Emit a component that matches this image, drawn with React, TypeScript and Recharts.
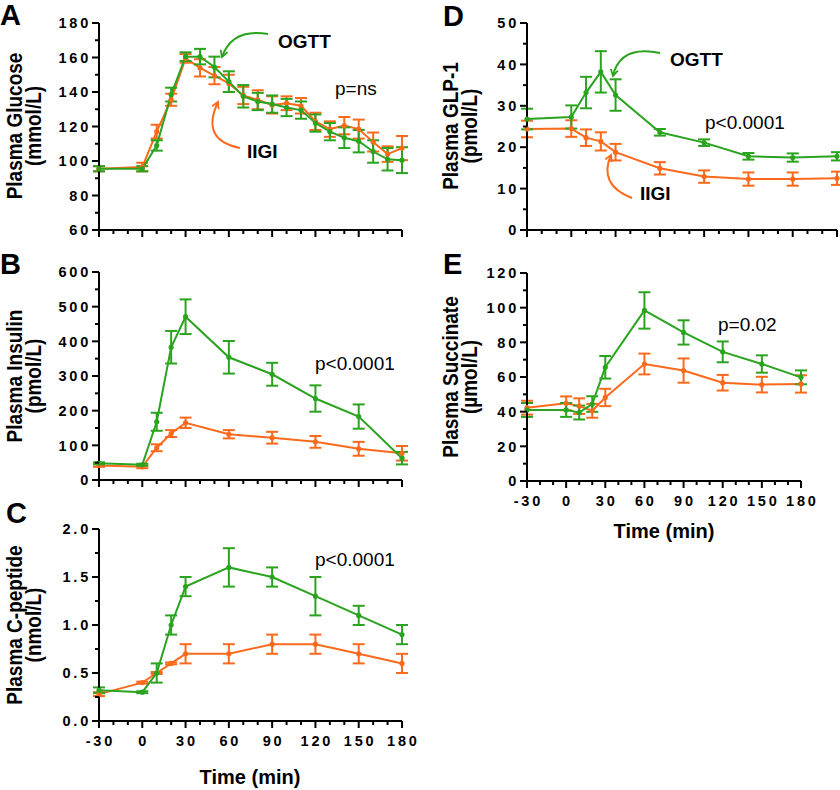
import { LineChart, Line, XAxis, YAxis, ErrorBar } from "recharts";

const GREEN = "#2aa31f";
const ORANGE = "#fb6a1c";
const FONT = "'Liberation Sans', Arial, Helvetica, sans-serif";

// x ticks every 10 min, labelled every 30
const xTicks = [-30, -20, -10, 0, 10, 20, 30, 40, 50, 60, 70, 80, 90, 100, 110, 120, 130, 140, 150, 160, 170, 180];

// A: glucose (mmol/L)
const glucoseTimes = [-30, 0, 10, 20, 30, 40, 50, 60, 70, 80, 90, 100, 110, 120, 130, 140, 150, 160, 170, 180];
const glucoseOgtt = [95.5, 95.5, 109, 138.5, 160.5, 160.5, 154.5, 146, 137.5, 134.5, 133, 131, 129.5, 122, 117, 113.5, 111.5, 105.5, 101, 100.5];
const glucoseOgttSem = [1.5, 1.5, 3, 4, 2.5, 4.5, 6, 6, 6.5, 5, 5, 5, 5, 5, 5, 6, 6.5, 6.5, 6.5, 7.5];
const glucoseIigi = [95.5, 96.5, 117, 135.5, 159.5, 154, 149.5, 145, 138, 135.5, 132.5, 133.5, 132, 123, 118.5, 120.5, 118.5, 111, 104, 107.5];
const glucoseIigiSem = [1.5, 2.5, 4, 3.5, 2.5, 5, 5, 5, 5, 5.5, 5, 4, 4.5, 5, 4.5, 5, 5.5, 5.5, 4.5, 7];
const glucoseTicks = [60, 70, 80, 90, 100, 110, 120, 130, 140, 150, 160, 170, 180];

// shared sampling for B-E
const times = [-30, 0, 10, 20, 30, 60, 90, 120, 150, 180];

// B: insulin (pmol/L)
const insulinOgtt = [48, 44, 168, 383, 471, 354, 305, 235, 183, 63];
const insulinOgttSem = [3, 3, 26, 47, 50, 47, 33, 38, 35, 18];
const insulinIigi = [42, 38, 93, 134, 165, 132, 122, 110, 90, 77];
const insulinIigiSem = [4, 4, 10, 10, 15, 12, 17, 17, 20, 21];
const insulinTicks = [0, 50, 100, 150, 200, 250, 300, 350, 400, 450, 500, 550, 600];

// C: C-peptide (nmol/L)
const cpepOgtt = [0.32, 0.3, 0.5, 1.0, 1.4, 1.6, 1.5, 1.3, 1.1, 0.9];
const cpepOgttSem = [0.03, 0.01, 0.1, 0.1, 0.1, 0.2, 0.1, 0.2, 0.1, 0.1];
const cpepIigi = [0.28, 0.4, 0.5, 0.6, 0.7, 0.7, 0.8, 0.8, 0.7, 0.6];
const cpepIigiSem = [0.02, 0.01, 0.01, 0.01, 0.1, 0.1, 0.1, 0.1, 0.1, 0.1];
const cpepTicks = [0, 0.25, 0.5, 0.75, 1, 1.25, 1.5, 1.75, 2];

// D: GLP-1 (pmol/L)
const glpOgtt = [26.8, 27.3, 33.2, 38.2, 32.6, 23.6, 21.1, 17.8, 17.5, 17.8];
const glpOgttSem = [2.5, 2.8, 3.8, 5, 3.8, 0.8, 0.8, 0.8, 1, 1];
const glpIigi = [24.4, 24.5, 22.3, 21.4, 18.8, 14.9, 12.9, 12.3, 12.3, 12.5];
const glpIigiSem = [2, 2, 2, 2.2, 2, 1.5, 1.5, 1.6, 1.6, 1.6];
const glpTicks = [0, 5, 10, 15, 20, 25, 30, 35, 40, 45, 50];

// E: succinate (µmol/L)
const sucOgtt = [41, 41, 39.5, 44.4, 65.6, 98.4, 85.7, 74.5, 67.5, 59.8];
const sucOgttSem = [4, 4, 4, 4.5, 6.5, 10.5, 7, 6, 5, 4];
const sucIigi = [42.3, 44.8, 43.2, 40.5, 48.2, 67.5, 63.7, 56.7, 55.6, 56];
const sucIigiSem = [4, 4, 4.5, 4, 5, 6, 7, 4.5, 4.5, 5];
const sucTicks = [0, 10, 20, 30, 40, 50, 60, 70, 80, 90, 100, 110, 120];

function toRows(t: number[], g: number[], gErr: number[], o: number[], oErr: number[]) {
  return t.map((time, i) => ({ time, ogtt: g[i], ogttErr: gErr[i], iigi: o[i], iigiErr: oErr[i] }));
}

const isMajor = (v: number, step: number) => Math.abs(v / step - Math.round(v / step)) < 1e-6;

const LS = 2.8;
const tickText = { fontFamily: FONT, fontWeight: 700, fontSize: 14.5, letterSpacing: LS, fill: "#000" };

function YTick({ x, y, payload, step, fmt }: any) {
  const major = isMajor(payload.value, step);
  return (
    <g>
      <line x1={x - (major ? 7 : 4)} x2={x} y1={y} y2={y} stroke="#000" strokeWidth={2} />
      {major && (
        <text x={x - 8} y={y} dy="0.36em" textAnchor="end" style={tickText}>
          {fmt(payload.value)}
        </text>
      )}
    </g>
  );
}

function XTick({ x, y, payload, labels }: any) {
  const major = isMajor(payload.value, 30);
  return (
    <g>
      <line x1={x} x2={x} y1={y} y2={y + (major ? 7 : 4)} stroke="#000" strokeWidth={2} />
      {major && labels && (
        <text x={x + LS / 2} y={y + 25} textAnchor="middle" style={tickText}>
          {payload.value}
        </text>
      )}
    </g>
  );
}

interface PanelProps {
  rows: any[];
  left: number;
  top: number;
  width: number;
  height: number;
  margin: { top: number; right: number; bottom: number; left: number };
  yWidth: number;
  xHeight: number;
  yDomain: [number, number];
  yTicks: number[];
  yStep: number;
  yFmt: (v: number) => string;
  xLabels: boolean;
}

function Panel(p: PanelProps) {
  const axisLine = { stroke: "#000", strokeWidth: 2 };
  return (
    <div style={{ position: "absolute", left: p.left, top: p.top }}>
      <LineChart width={p.width} height={p.height} data={p.rows} margin={p.margin} style={{ overflow: "visible" }}>
        <XAxis
          dataKey="time"
          type="number"
          domain={[-30, 180]}
          ticks={xTicks}
          interval={0}
          height={p.xHeight}
          axisLine={axisLine}
          tickLine={false}
          tickSize={0}
          tickMargin={0}
          tick={(t: any) => <XTick {...t} labels={p.xLabels} />}
        />
        <YAxis
          type="number"
          domain={p.yDomain}
          ticks={p.yTicks}
          interval={0}
          width={p.yWidth}
          axisLine={axisLine}
          tickLine={false}
          tickSize={0}
          tickMargin={0}
          tick={(t: any) => <YTick {...t} step={p.yStep} fmt={p.yFmt} />}
        />
        <Line dataKey="iigi" stroke={ORANGE} strokeWidth={2} dot={{ r: 1.6, fill: ORANGE, stroke: ORANGE }} isAnimationActive={false}>
          <ErrorBar dataKey="iigiErr" direction="y" width={6} stroke={ORANGE} strokeWidth={2} isAnimationActive={false} />
        </Line>
        <Line dataKey="ogtt" stroke={GREEN} strokeWidth={2} dot={{ r: 1.6, fill: GREEN, stroke: GREEN }} isAnimationActive={false}>
          <ErrorBar dataKey="ogttErr" direction="y" width={6} stroke={GREEN} strokeWidth={2} isAnimationActive={false} />
        </Line>
      </LineChart>
    </div>
  );
}

function YTitle({ x, y, lines }: { x: number; y: number; lines: string[] }) {
  return (
    <g>
      {lines.map((s, i) => (
        <text
          key={s}
          transform={`translate(${x + i * 19},${y}) scale(1.2,1) rotate(-90)`}
          textAnchor="middle"
          style={{ fontFamily: FONT, fontWeight: 700, fontSize: 19 }}
        >
          {s}
        </text>
      ))}
    </g>
  );
}

function Arrow({ d, color }: { d: string; color: string }) {
  const id = color === GREEN ? "headG" : "headO";
  return <path d={d} fill="none" stroke={color} strokeWidth={2} markerEnd={`url(#${id})`} />;
}

export default function App() {
  const int = (v: number) => String(v);
  const oneDec = (v: number) => v.toFixed(1);
  const big = { fontFamily: FONT, fontWeight: 700, fontSize: 29 };
  const annot = { fontFamily: FONT, fontWeight: 700, fontSize: 19 };
  const pval = { fontFamily: FONT, fontSize: 19 };
  const xTitle = { fontFamily: FONT, fontWeight: 700, fontSize: 20 };
  return (
    <div style={{ position: "absolute", left: 0, top: 0, width: 840, height: 790, background: "#fff", overflow: "hidden" }}>
      <Panel
        rows={toRows(glucoseTimes, glucoseOgtt, glucoseOgttSem, glucoseIigi, glucoseIigiSem)}
        left={0} top={0} width={412} height={240}
        margin={{ top: 23, right: 10, bottom: 0, left: 0 }}
        yWidth={99} xHeight={10}
        yDomain={[60, 180]} yTicks={glucoseTicks} yStep={20} yFmt={int} xLabels={false}
      />
      <Panel
        rows={toRows(times, insulinOgtt, insulinOgttSem, insulinIigi, insulinIigiSem)}
        left={0} top={250} width={412} height={240}
        margin={{ top: 22, right: 10, bottom: 0, left: 0 }}
        yWidth={99} xHeight={10}
        yDomain={[0, 600]} yTicks={insulinTicks} yStep={100} yFmt={int} xLabels={false}
      />
      <Panel
        rows={toRows(times, cpepOgtt, cpepOgttSem, cpepIigi, cpepIigiSem)}
        left={0} top={500} width={432} height={250}
        margin={{ top: 29, right: 30, bottom: 0, left: 0 }}
        yWidth={99} xHeight={29}
        yDomain={[0, 2]} yTicks={cpepTicks} yStep={0.5} yFmt={oneDec} xLabels={true}
      />
      <Panel
        rows={toRows(times, glpOgtt, glpOgttSem, glpIigi, glpIigiSem)}
        left={420} top={0} width={420} height={240}
        margin={{ top: 23, right: 3, bottom: 0, left: 0 }}
        yWidth={107} xHeight={10}
        yDomain={[0, 50]} yTicks={glpTicks} yStep={10} yFmt={int} xLabels={false}
      />
      <Panel
        rows={toRows(times, sucOgtt, sucOgttSem, sucIigi, sucIigiSem)}
        left={420} top={250} width={420} height={260}
        margin={{ top: 23, right: 39, bottom: 0, left: 0 }}
        yWidth={107} xHeight={29}
        yDomain={[0, 120]} yTicks={sucTicks} yStep={20} yFmt={int} xLabels={true}
      />

      <svg width={840} height={790} style={{ position: "absolute", left: 0, top: 0, pointerEvents: "none" }}>
        <defs>
          <marker id="headG" viewBox="0 0 10 10" refX="8" refY="5" markerWidth="9" markerHeight="9" markerUnits="userSpaceOnUse" orient="auto">
            <path d="M1,1 L8,5 L1,9" fill="none" stroke={GREEN} strokeWidth={2} />
          </marker>
          <marker id="headO" viewBox="0 0 10 10" refX="8" refY="5" markerWidth="9" markerHeight="9" markerUnits="userSpaceOnUse" orient="auto">
            <path d="M1,1 L8,5 L1,9" fill="none" stroke={ORANGE} strokeWidth={2} />
          </marker>
        </defs>

        <text x={0} y={25} style={big}>A</text>
        <text x={0} y={274} style={big}>B</text>
        <text x={6} y={523} style={big}>C</text>
        <text x={443} y={26} style={big}>D</text>
        <text x={443} y={274} style={big}>E</text>

        <YTitle x={22} y={126} lines={["Plasma Glucose", "(mmol/L)"]} />
        <YTitle x={22} y={376} lines={["Plasma Insulin", "(pmol/L)"]} />
        <YTitle x={22} y={625} lines={["Plasma C-peptide", "(nmol/L)"]} />
        <YTitle x={458} y={126} lines={["Plasma GLP-1", "(pmol/L)"]} />
        <YTitle x={458} y={377} lines={["Plasma Succinate", "(µmol/L)"]} />

        <text x={250} y={784} textAnchor="middle" style={xTitle}>Time (min)</text>
        <text x={664} y={538} textAnchor="middle" style={xTitle}>Time (min)</text>

        <text x={278} y={48} style={annot}>OGTT</text>
        <text x={247} y={158} style={annot}>IIGI</text>
        <Arrow d="M268,34 Q232,28 222,57" color={GREEN} />
        <Arrow d="M240,148 Q200,140 218,102" color={ORANGE} />
        <text x={335} y={95} style={pval}>p=ns</text>

        <text x={315} y={370} style={pval}>p&lt;0.0001</text>
        <text x={315} y={566} style={pval}>p&lt;0.0001</text>

        <text x={670} y={66} style={annot}>OGTT</text>
        <text x={640} y={200} style={annot}>IIGI</text>
        <Arrow d="M660,53 Q620,45 613,76" color={GREEN} />
        <Arrow d="M632,198 Q598,185 611,155" color={ORANGE} />
        <text x={705} y={129} style={pval}>p&lt;0.0001</text>
        <text x={718} y={331} style={pval}>p=0.02</text>
      </svg>
    </div>
  );
}
